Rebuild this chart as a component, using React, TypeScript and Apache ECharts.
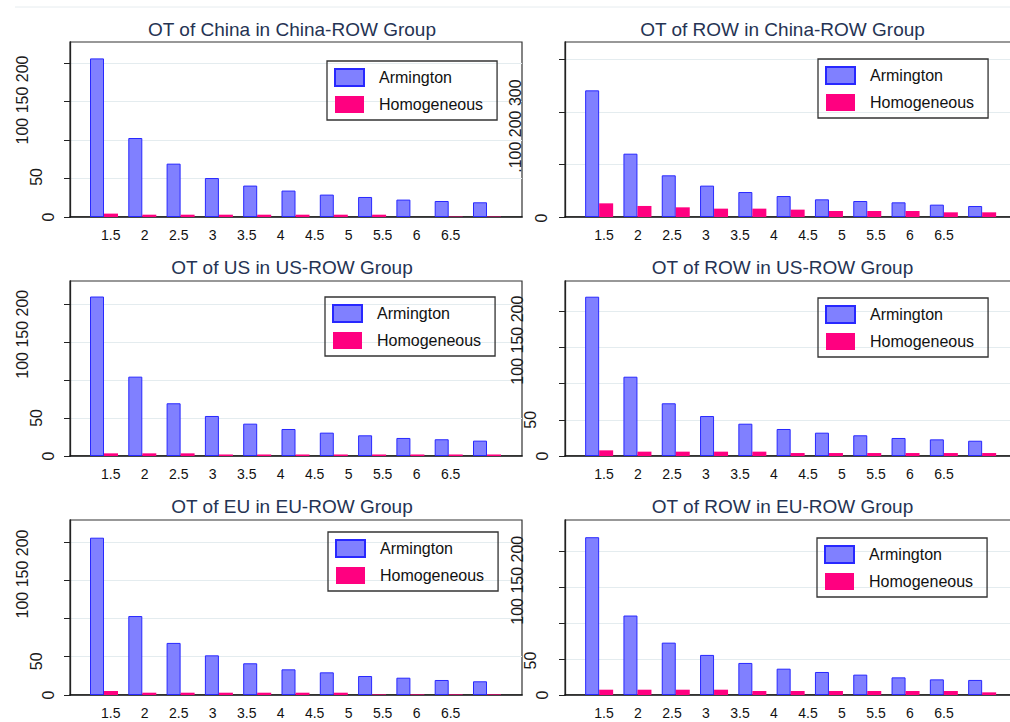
import React, { useEffect, useRef } from "react";
import * as echarts from "echarts";

// ---------- data ----------
const categories = ["1.5", "2", "2.5", "3", "3.5", "4", "4.5", "5", "5.5", "6", "6.5"];
const xTickValues = [1.5, 2, 2.5, 3, 3.5, 4, 4.5, 5, 5.5, 6, 6.5];
const seriesNames = ["Armington", "Homogeneous"];

const titles = [
  "OT of China in China-ROW Group",
  "OT of ROW in China-ROW Group",
  "OT of US in US-ROW Group",
  "OT of ROW in US-ROW Group",
  "OT of EU in EU-ROW Group",
  "OT of ROW in EU-ROW Group",
];

const armChina = [206, 102.6, 69.3, 50.6, 40.8, 34.3, 29.1, 26, 22.6, 20.8, 19.1];
const homChina = [4.4, 3, 3, 3, 3, 3, 3, 3, 0, 0.6, 0.6];
const armRowChina = [241, 120.5, 79.3, 59.7, 47.5, 39.9, 33.6, 30.4, 27.9, 23.5, 20.9];
const homRowChina = [26, 21, 18.4, 15.9, 15.9, 14, 11.4, 11.4, 11.4, 8.9, 8.9];
const armUS = [209.6, 104.3, 69.3, 52.6, 42.5, 35.5, 30.7, 27.2, 23.7, 22, 20.2];
const homUS = [3.5, 3.5, 3.5, 2, 2, 2, 2, 2, 2, 2, 2];
const armRowUS = [220, 109.5, 72.8, 55.2, 44.6, 37.3, 32.2, 28.6, 24.9, 23, 21.1];
const homRowUS = [7.8, 6, 6, 6, 6, 4.1, 4.1, 4.1, 4.1, 4.1, 4.1];
const armEU = [205.4, 103.1, 68, 51.8, 41.4, 33.5, 29.6, 24.8, 22.6, 19.6, 17.9];
const homEU = [5.2, 3, 3, 3, 3, 3, 3, 0.8, 0.8, 0.8, 0.8];
const armRowEU = [220, 110.8, 73, 55.9, 44.7, 36.7, 32.1, 28.4, 24.6, 21.8, 21];
const homRowEU = [7.4, 7.4, 7.4, 7.4, 5.6, 5.6, 5.6, 5.6, 5.6, 5.6, 3.7];

const armData = [armChina, armRowChina, armUS, armRowUS, armEU, armRowEU];
const homData = [homChina, homRowChina, homUS, homRowUS, homEU, homRowEU];

const yMax = [227.3, 333, 230, 241.7, 228.5, 244];
const yTicks = [
  [0, 50, 100, 150, 200],
  [0, 100, 200, 300],
  [0, 50, 100, 150, 200],
  [0, 50, 100, 150, 200],
  [0, 50, 100, 150, 200],
  [0, 50, 100, 150, 200],
];
const yInterval = [50, 100, 50, 50, 50, 50];

// y tick label texts as they appear, and the value each one is centred on
const yLabelTexts = [
  ["0", "50", "100 150 200"],
  ["0", ".100 200 300"],
  ["0", "50", "100 150 200"],
  ["0", "50", "100 150 200"],
  ["0", "50", "100 150 200"],
  ["0", "50", "100 150 200"],
];
const yLabelAt = [
  [0, 52, 152],
  [-2, 173],
  [0, 50, 160],
  [0, 50, 160],
  [0, 44, 158],
  [0, 48, 160],
];

// ---------- layout ----------
const FONT = "'Liberation Sans', Arial, Helvetica, sans-serif";
const colLeft = [70, 565];
const frameWidth = [452, 450];
const barsLeft = [84.85, 580];
const barsWidth = 421.3;
const rowTop = [42, 281, 520];
const H = 175;
const xMin = [0.9015, 0.9265];
const xMax = [7.549, 7.544];
const titleCx = [292, 782.5];
const titleTop = [20, 258, 497];
const legendPos = [
  [327, 61],
  [818, 59],
  [325, 297],
  [818, 298],
  [328, 532],
  [817, 538],
];
const yLabelDx = [
  [22, 34, 47.5],
  [24, 50],
  [22, 34, 47.5],
  [22.5, 35, 48],
  [22, 34, 47.5],
  [22.5, 35, 48],
];

function buildOption() {
  const grid: any[] = [];
  const xAxis: any[] = [];
  const yAxis: any[] = [];
  const series: any[] = [];
  const title: any[] = [];
  const legend: any[] = [];

  for (let p = 0; p < 6; p++) {
    const r = Math.floor(p / 2);
    const c = p % 2;
    grid.push({
      left: colLeft[c],
      top: rowTop[r],
      width: frameWidth[c],
      height: H,
      show: true,
      borderColor: "#333",
      borderWidth: 1.2,
      backgroundColor: "transparent",
      containLabel: false,
      outerBoundsMode: "none",
    });
    grid.push({
      left: barsLeft[c],
      top: rowTop[r],
      width: barsWidth,
      height: H,
      show: false,
      containLabel: false,
      outerBoundsMode: "none",
    });

    xAxis.push({
      gridIndex: 2 * p,
      type: "value",
      position: "bottom",
      min: xMin[c],
      max: xMax[c],
      axisLine: { show: true, onZero: false, lineStyle: { color: "#111", width: 1.6 } },
      axisTick: { show: false },
      splitLine: { show: false },
      axisLabel: {
        show: true,
        customValues: xTickValues,
        formatter: (v: number) => {
          const i = xTickValues.indexOf(v);
          return i >= 0 ? categories[i] : "";
        },
        margin: 11,
        fontSize: 14,
        color: "#111",
        fontFamily: FONT,
      },
    });
    xAxis.push({
      gridIndex: 2 * p + 1,
      type: "category",
      data: categories,
      show: false,
    });

    yAxis.push({
      gridIndex: 2 * p,
      type: "value",
      min: 0,
      max: yMax[p],
      interval: yInterval[p],
      axisLine: { show: true, onZero: false, lineStyle: { color: "#222", width: 1.3 } },
      axisTick: {
        show: true,
        inside: false,
        length: 6,
        customValues: yTicks[p],
        lineStyle: { color: "#222", width: 1 },
      },
      axisLabel: { show: false },
      splitLine: { show: true, lineStyle: { color: "#e4ecef", width: 1 } },
    });
    yAxis.push({
      gridIndex: 2 * p + 1,
      type: "value",
      min: 0,
      max: yMax[p],
      show: false,
      splitLine: { show: false },
    });

    series.push({
      type: "bar",
      name: seriesNames[0],
      xAxisIndex: 2 * p + 1,
      yAxisIndex: 2 * p + 1,
      data: armData[p],
      barWidth: 14,
      barGap: "0%",
      itemStyle: { color: "#8080ff", borderColor: "#2828ff", borderWidth: 1 },
    });
    series.push({
      type: "bar",
      name: seriesNames[1],
      xAxisIndex: 2 * p + 1,
      yAxisIndex: 2 * p + 1,
      data: homData[p],
      barWidth: 14,
      barGap: "0%",
      itemStyle: { color: "#ff0080" },
    });

    title.push({
      text: titles[p],
      left: titleCx[c],
      top: titleTop[r],
      textAlign: "center",
      padding: 0,
      textStyle: { fontSize: 19, fontWeight: "normal", color: "#253353", fontFamily: FONT },
    });

    legend.push({
      data: seriesNames,
      orient: "vertical",
      left: legendPos[p][0],
      top: legendPos[p][1],
      itemWidth: 29,
      itemHeight: 17,
      itemGap: 9,
      padding: [7, 14, 7, 7],
      borderColor: "#333",
      borderWidth: 1.3,
      borderRadius: 0,
      icon: "rect",
      selectedMode: false,
      backgroundColor: "transparent",
      textStyle: { fontSize: 16, color: "#111", fontFamily: FONT, padding: [0, 0, 0, 10] },
    });
  }

  return {
    animation: false,
    backgroundColor: "#ffffff",
    grid,
    xAxis,
    yAxis,
    series,
    title,
    legend,
    tooltip: { show: false },
  };
}

export default function App() {
  const ref = useRef<HTMLDivElement>(null);
  useEffect(() => {
    if (!ref.current) return;
    document.body.style.margin = "0";
    const chart = echarts.init(ref.current, null, { renderer: "svg", width: 1010, height: 722 });
    chart.setOption(buildOption() as any);

    const elements: any[] = [
      {
        type: "line",
        shape: { x1: 15, y1: 7, x2: 1010, y2: 7 },
        style: { stroke: "#e6ecef", lineWidth: 1 },
        silent: true,
      },
    ];
    for (let p = 0; p < 6; p++) {
      const c = p % 2;
      yLabelTexts[p].forEach((t, i) => {
        const py = chart.convertToPixel({ yAxisIndex: 2 * p } as any, yLabelAt[p][i]) as number;
        elements.push({
          type: "text",
          x: colLeft[c] - yLabelDx[p][i],
          y: py,
          rotation: Math.PI / 2,
          silent: true,
          style: {
            text: t,
            fontSize: 16,
            fontFamily: FONT,
            fill: "#1a1a1a",
            align: "center",
            verticalAlign: "middle",
          },
        });
      });
    }
    chart.setOption({ graphic: { elements } } as any);
    return () => chart.dispose();
  }, []);
  return (
    <div style={{ position: "fixed", left: 0, top: 0, width: 1010, height: 722, background: "#fff" }}>
      <div ref={ref} style={{ width: 1010, height: 722 }} />
    </div>
  );
}
